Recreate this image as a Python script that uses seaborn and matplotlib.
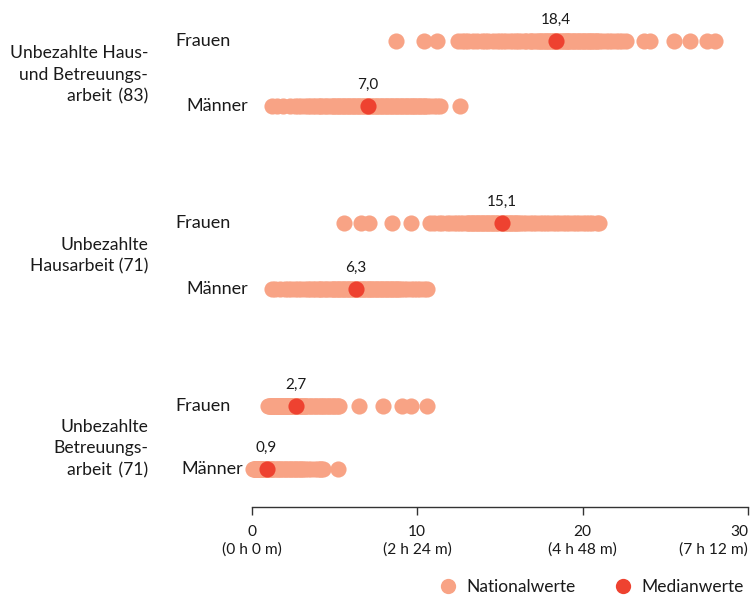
import matplotlib
matplotlib.use("Agg")
import matplotlib.pyplot as plt
import matplotlib.transforms as mtransforms
from matplotlib.lines import Line2D
import seaborn as sns
import pandas as pd

sns.set_theme(style="white")
plt.rcParams["font.family"] = ["Lato", "DejaVu Sans"]

# Stunden pro Woche je Land
haus_betreuung_frauen = [
    8.7, 10.4, 11.2,
    12.5, 12.7, 12.9, 13.1, 13.4, 13.6, 13.9, 14.1, 14.3, 14.6, 14.8, 15.0, 15.2,
    15.4, 15.6, 15.8, 16.0, 16.1, 16.3, 16.5, 16.6, 16.8, 16.9, 17.0, 17.2, 17.3,
    17.4, 17.5, 17.6, 17.7, 17.8, 17.9, 18.0, 18.1, 18.2, 18.3, 18.3, 18.35,
    18.4,
    18.5, 18.6, 18.7, 18.8, 18.9, 19.0, 19.05, 19.1, 19.2, 19.3, 19.4, 19.5, 19.6,
    19.7, 19.8, 19.9, 20.0, 20.1, 20.2, 20.3, 20.4, 20.5, 20.6, 20.7, 20.8, 20.9,
    21.0, 21.2, 21.4, 21.6, 21.8, 22.0, 22.2, 22.4, 22.6,
    23.7, 24.1, 25.5, 26.5, 27.5, 28.0,
]
haus_betreuung_maenner = [
    1.2, 1.5, 1.9, 2.3, 2.6, 2.8, 3.0, 3.2, 3.4, 3.5, 3.7, 3.8, 4.0, 4.1, 4.2,
    4.4, 4.5, 4.6, 4.8, 4.9, 5.0, 5.1, 5.2, 5.3, 5.4, 5.5, 5.6, 5.7, 5.8, 5.9,
    6.0, 6.1, 6.2, 6.3, 6.4, 6.5, 6.6, 6.7, 6.8, 6.9, 6.95,
    7.0,
    7.1, 7.2, 7.3, 7.4, 7.5, 7.6, 7.7, 7.8, 7.9, 8.0, 8.1, 8.2, 8.3, 8.4, 8.5,
    8.6, 8.7, 8.8, 8.9, 9.0, 9.1, 9.2, 9.3, 9.4, 9.5, 9.6, 9.7, 9.8, 9.9, 10.0,
    10.1, 10.2, 10.3, 10.4, 10.5, 10.6, 10.8, 11.0, 11.2, 11.4, 12.6,
]
hausarbeit_frauen = [
    5.6, 6.6, 7.1, 8.5, 9.6,
    10.8, 11.0, 11.3, 11.5, 11.8, 12.0, 12.2, 12.4, 12.6, 12.8, 13.0, 13.1, 13.2,
    13.3, 13.4, 13.5, 13.6, 13.7, 13.8, 13.9, 14.0, 14.1, 14.2, 14.3, 14.4, 14.5,
    14.6, 14.7, 14.8, 14.9,
    15.1,
    15.2, 15.3, 15.4, 15.5, 15.6, 15.7, 15.8, 15.9, 16.0, 16.1, 16.2, 16.4, 16.6,
    16.8, 17.0, 17.2, 17.4, 17.6, 17.8, 18.0, 18.2, 18.4, 18.6, 18.8, 19.0, 19.2,
    19.4, 19.6, 19.8, 20.0, 20.2, 20.4, 20.6, 20.9, 21.0,
]
hausarbeit_maenner = [
    1.2, 1.4, 1.7, 2.0, 2.2, 2.4, 2.6, 2.8, 3.0, 3.2, 3.4, 3.5, 3.7, 3.8, 4.0,
    4.1, 4.2, 4.4, 4.5, 4.6, 4.8, 4.9, 5.0, 5.1, 5.2, 5.3, 5.4, 5.5, 5.6, 5.7,
    5.8, 5.9, 6.0, 6.1, 6.2,
    6.3,
    6.4, 6.5, 6.6, 6.7, 6.8, 6.9, 7.0, 7.1, 7.2, 7.3, 7.4, 7.5, 7.6, 7.7, 7.8,
    7.9, 8.0, 8.1, 8.2, 8.3, 8.4, 8.5, 8.6, 8.7, 8.8, 8.9, 9.0, 9.2, 9.4, 9.6,
    9.8, 10.0, 10.2, 10.4, 10.6,
]
betreuung_frauen = [
    1.0, 1.05, 1.1, 1.15, 1.2, 1.25, 1.3, 1.35, 1.4, 1.45, 1.5, 1.55, 1.6, 1.65,
    1.7, 1.75, 1.8, 1.85, 1.9, 1.95, 2.0, 2.05, 2.1, 2.15, 2.2, 2.25, 2.3, 2.35,
    2.4, 2.45, 2.5, 2.55, 2.6, 2.62, 2.65,
    2.7,
    2.75, 2.8, 2.85, 2.9, 3.0, 3.05, 3.1, 3.2, 3.25, 3.3, 3.4, 3.5, 3.6, 3.7,
    3.8, 3.9, 4.0, 4.1, 4.2, 4.3, 4.4, 4.5, 4.6, 4.7, 4.8, 4.9, 5.0, 5.1, 5.2,
    5.3, 6.5, 7.95, 9.1, 9.6, 10.6,
]
betreuung_maenner = [
    0.1, 0.15, 0.2, 0.22, 0.25, 0.28, 0.3, 0.33, 0.35, 0.38, 0.4, 0.42, 0.45,
    0.48, 0.5, 0.52, 0.55, 0.58, 0.6, 0.62, 0.65, 0.67, 0.7, 0.72, 0.74, 0.76,
    0.78, 0.8, 0.82, 0.83, 0.84, 0.85, 0.86, 0.87, 0.88,
    0.9,
    0.92, 0.95, 1.0, 1.05, 1.1, 1.15, 1.2, 1.3, 1.4, 1.5, 1.6, 1.7, 1.8, 1.9,
    2.0, 2.1, 2.2, 2.3, 2.4, 2.5, 2.6, 2.7, 2.8, 2.9, 3.0, 3.1, 3.2, 3.4, 3.6,
    3.8, 4.0, 4.1, 4.2, 4.3, 5.2,
]

medianwerte = [18.4, 7.0, 15.1, 6.3, 2.7, 0.9]
median_labels = ["18,4", "7,0", "15,1", "6,3", "2,7", "0,9"]
geschlecht = ["Frauen", "Männer"]
bereiche = [
    "Unbezahlte Haus-\nund Betreuungs-\narbeit\u2009 (83)",
    "Unbezahlte\nHausarbeit (71)",
    "Unbezahlte\nBetreuungs-\narbeit\u2009 (71)",
]
x_ticks = [0, 10, 20, 30]
x_ticklabels = ["0\n(0 h 0 m)", "10\n(2 h 24 m)", "20\n(4 h 48 m)", "30\n(7 h 12 m)"]
legend_labels = ["Nationalwerte", "Medianwerte"]

reihen = [
    haus_betreuung_frauen, haus_betreuung_maenner,
    hausarbeit_frauen, hausarbeit_maenner,
    betreuung_frauen, betreuung_maenner,
]

# vertical layout of the six rows (axis units, top = 0)
row_pos = [0.0, 1.0, 2.8, 3.815, 5.615, 6.585]
group_label_pos = [0.52, 3.3, 6.27]
row_label_x = [175, 186, 175, 186, 175, 181]   # pixel x of the row labels

col_nat = "#F8A385"
col_med = "#EE4230"
text_col = "#1a1a1a"

records = []
for i, werte in enumerate(reihen):
    for v in werte:
        records.append({"reihe": i, "y": row_pos[i], "stunden": v})
df = pd.DataFrame(records)
df_med = pd.DataFrame({"y": row_pos, "stunden": medianwerte})

W, H = 754, 596
fig = plt.figure(figsize=(W / 100, H / 100), dpi=100)
x0_px, x30_px, spine_px = 251.7, 748.0, 507.0
ax = fig.add_axes([x0_px / W, 1 - spine_px / H, (x30_px - x0_px) / W, spine_px / H])

sns.scatterplot(data=df, x="stunden", y="y", ax=ax, color=col_nat, s=135,
                linewidth=0, legend=False, zorder=2)
sns.scatterplot(data=df_med, x="stunden", y="y", ax=ax, color=col_med, s=135,
                linewidth=0, legend=False, zorder=3)
for c in ax.collections:
    c.set_clip_on(False)

ax.set_xlim(0, 30)
ax.set_ylim(6.585 + (spine_px - 469) / 65.0, -41 / 65.0)

for xv, yv, lab in zip(medianwerte, row_pos, median_labels):
    ax.annotate(lab, (xv, yv), xytext=(0, 15.5), textcoords="offset points",
                ha="center", va="center", fontsize=11, color=text_col)

# row and group labels
trans = mtransforms.blended_transform_factory(fig.transFigure, ax.transData)
for i, yv in enumerate(row_pos):
    ax.text(row_label_x[i] / W, yv, geschlecht[i % 2], transform=trans,
            ha="left", va="center", fontsize=13, color=text_col)
for lab, yv in zip(bereiche, group_label_pos):
    ax.text(148 / W, yv, lab, transform=trans, ha="right", va="center",
            fontsize=12.6, color=text_col, linespacing=1.42, multialignment="right")

# axis styling
sns.despine(ax=ax, left=True, top=True, right=True)
ax.spines["bottom"].set_color("#333333")
ax.spines["bottom"].set_linewidth(1.0)
ax.set_yticks([])
ax.set_xticks(x_ticks)
ax.set_xticklabels(x_ticklabels, fontsize=11.2, color=text_col, linespacing=1.25)
ax.tick_params(axis="x", direction="out", length=6, width=1.0, color="#333333",
               pad=7, bottom=True)
last = ax.get_xticklabels()[-1]
last.set_ha("right")
last.set_multialignment("right")
last.set_x(30.1)
ax.set_xlabel("")
ax.set_ylabel("")
ax.set_facecolor("none")

handles = [
    Line2D([0], [0], marker="o", linestyle="", markersize=11,
           markerfacecolor=col_nat, markeredgewidth=0),
    Line2D([0], [0], marker="o", linestyle="", markersize=11,
           markerfacecolor=col_med, markeredgewidth=0),
]
fig.legend(handles, legend_labels, loc="center right",
           bbox_to_anchor=(759 / W, 1 - 587 / H), ncol=2, frameon=False,
           fontsize=12.5, handletextpad=0.05, columnspacing=1.7,
           labelcolor=text_col)

fig.savefig("out.png", dpi=100)
